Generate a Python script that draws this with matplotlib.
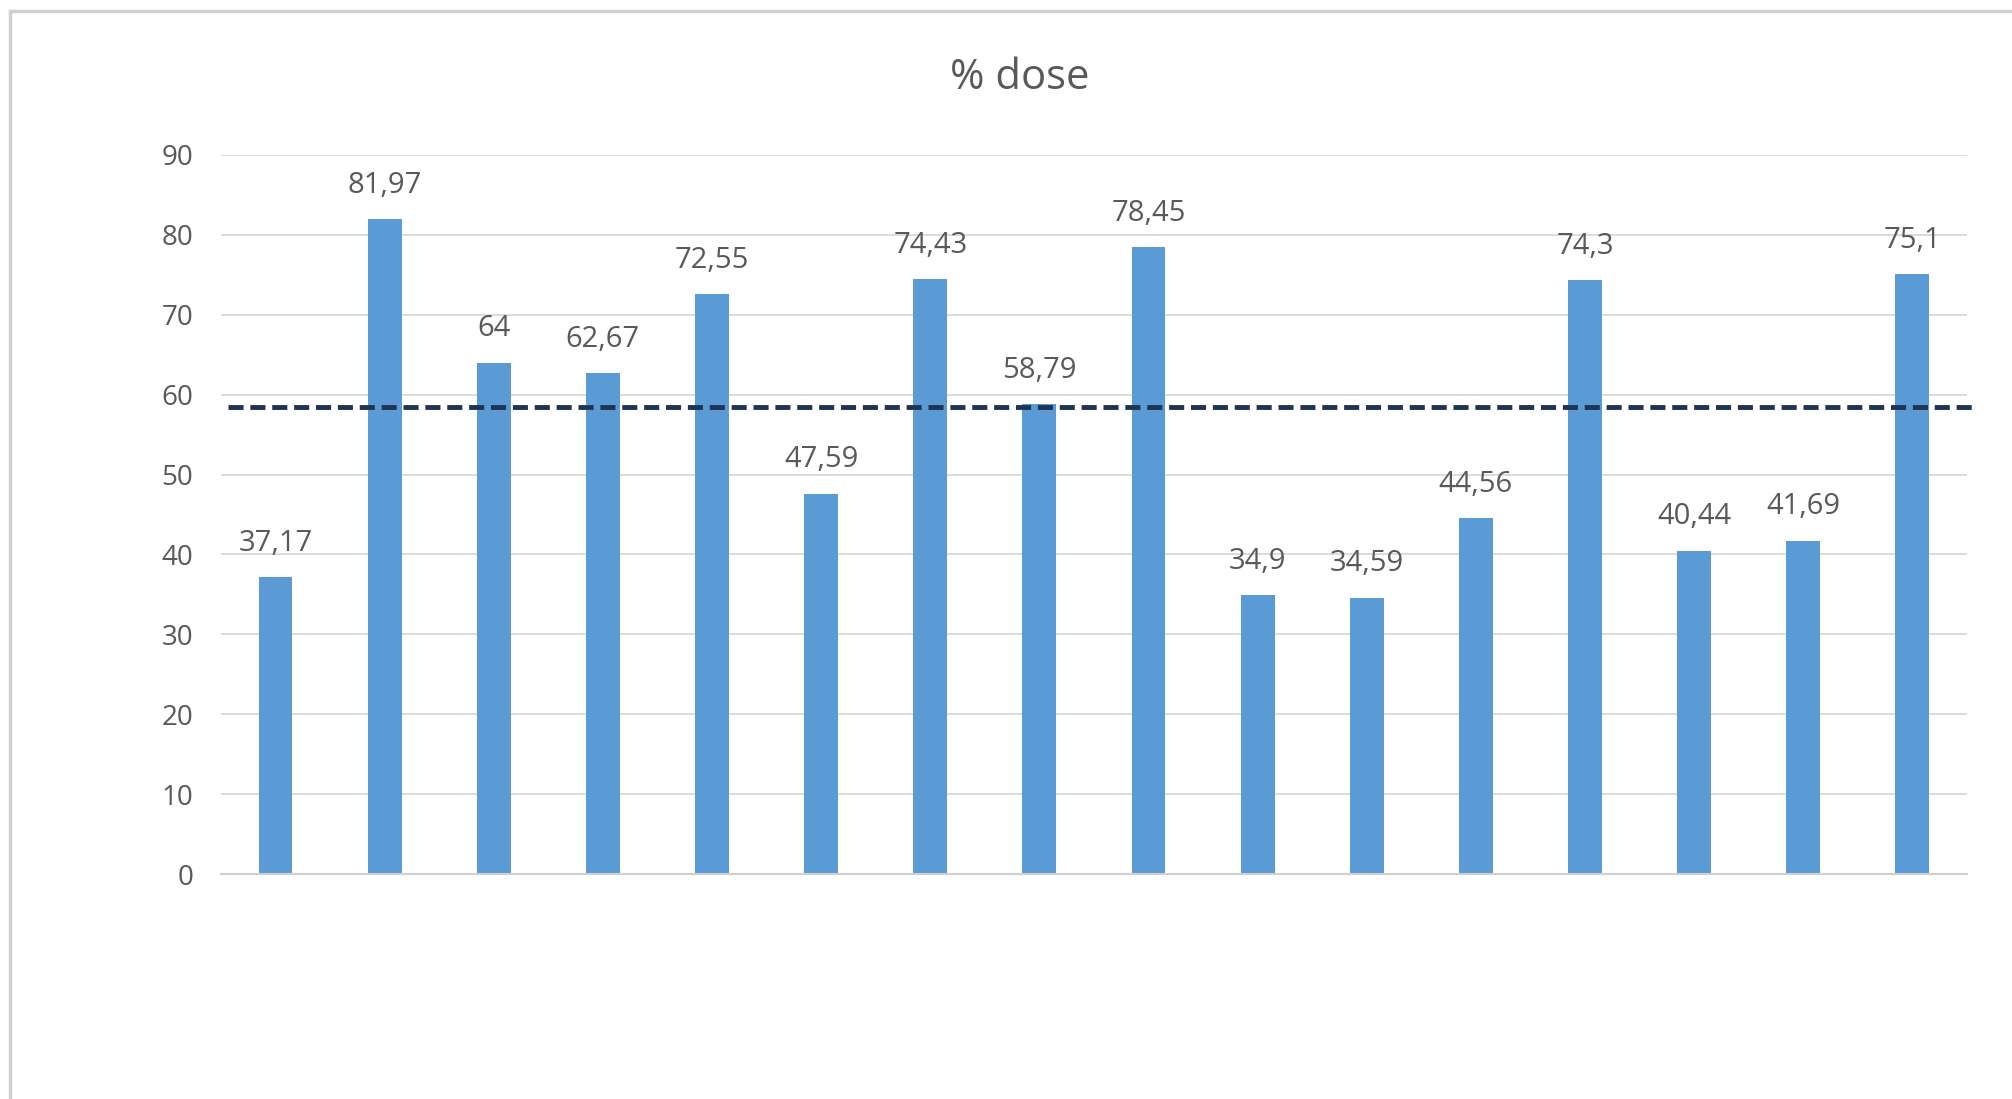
import numpy as np
import matplotlib.pyplot as plt
from matplotlib.patches import Rectangle

# данные
values = [37.17, 81.97, 64, 62.67, 72.55, 47.59, 74.43, 58.79, 78.45,
          34.9, 34.59, 44.56, 74.3, 40.44, 41.69, 75.1]
labels = ["37,17", "81,97", "64", "62,67", "72,55", "47,59", "74,43", "58,79",
          "78,45", "34,9", "34,59", "44,56", "74,3", "40,44", "41,69", "75,1"]
ref_level = 58.4  # пунктирная линия
y_ticks = [0, 10, 20, 30, 40, 50, 60, 70, 80, 90]

bar_color = '#5B9BD5'
line_color = '#1F3455'
text_color = '#595959'

plt.rcParams['font.family'] = ['Open Sans', 'DejaVu Sans']

fig = plt.figure(figsize=(20.12, 10.99), dpi=100)
fig.patches.append(Rectangle((0.005, -0.1), 1.1, 1.09, transform=fig.transFigure,
                             fill=False, edgecolor='#D0D0D0', linewidth=2.5))

ax = fig.add_axes([0.1098, 0.2047, 0.8678, 0.6543])
x = np.arange(len(values))
ax.bar(x, values, width=0.31, color=bar_color, zorder=2)

for xi, v, lab in zip(x, values, labels):
  ax.annotate(lab, (xi, v), xytext=(0, 14), textcoords='offset points',
              ha='center', va='bottom', fontsize=21, color=text_color)

ax.axhline(ref_level, xmin=0.004, xmax=1.006, color=line_color, linestyle=(0, (3.1, 1.4)),
           linewidth=3.5, clip_on=False, zorder=3)

ax.set_xlim(-0.5, len(values) - 0.5)
ax.set_ylim(0, 90)
ax.set_yticks(y_ticks)
ax.set_xticks([])
ax.tick_params(axis='y', length=0, labelsize=20, labelcolor=text_color, pad=20)
ax.grid(axis='y', color='#D9D9D9', linewidth=1.3, zorder=0)
for s in ['top', 'right', 'left']:
  ax.spines[s].set_visible(False)
ax.spines['bottom'].set_color('#D0D0D0')
ax.spines['bottom'].set_linewidth(1.5)

fig.text(0.507, 0.929, '% dose', ha='center', va='center', fontsize=30, color=text_color)

fig.savefig('out.png', dpi=100)
